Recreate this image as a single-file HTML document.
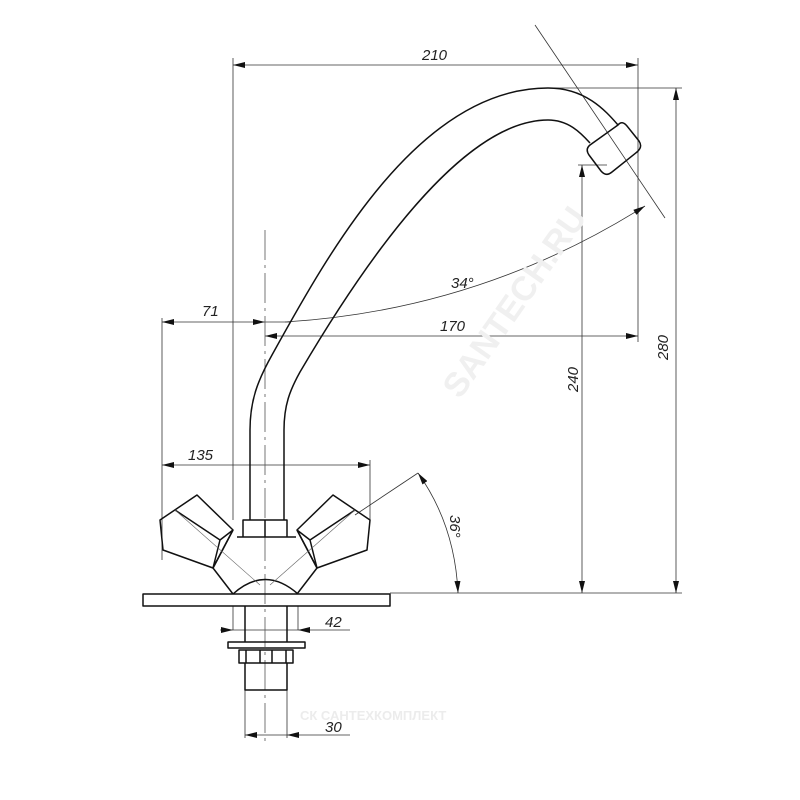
<!DOCTYPE html>
<html><head><meta charset="utf-8"><style>
html,body{margin:0;padding:0;background:#fff;}
svg{display:block}
text{font-family:"Liberation Sans",sans-serif;font-style:italic;font-size:15px;fill:#222}
</style></head><body>
<svg width="800" height="800" viewBox="0 0 800 800" xmlns="http://www.w3.org/2000/svg">
<defs>
<marker id="a" viewBox="0 0 12 6" refX="12" refY="3" markerWidth="12" markerHeight="6" orient="auto-start-reverse" markerUnits="userSpaceOnUse"><path d="M0,0 L12,3 L0,6 z" fill="#111"/></marker>
</defs>
<g stroke="#333" stroke-width="0.8" fill="none">
<line x1="233" y1="58" x2="233" y2="520"/>
<line x1="638" y1="58" x2="638" y2="342"/>
<line x1="162" y1="318" x2="162" y2="560"/>
<line x1="370" y1="460" x2="370" y2="520"/>
<line x1="548" y1="88" x2="682" y2="88"/>
<line x1="578" y1="165" x2="607" y2="165"/>
<line x1="390" y1="593" x2="682" y2="593"/>
<line x1="233" y1="65" x2="638" y2="65" marker-start="url(#a)" marker-end="url(#a)"/>
<line x1="162" y1="322" x2="265" y2="322" marker-start="url(#a)" marker-end="url(#a)"/>
<line x1="265" y1="322" x2="290" y2="322"/>
<line x1="265" y1="336" x2="638" y2="336" marker-start="url(#a)" marker-end="url(#a)"/>
<line x1="162" y1="465" x2="370" y2="465" marker-start="url(#a)" marker-end="url(#a)"/>
<line x1="676" y1="88" x2="676" y2="593" marker-start="url(#a)" marker-end="url(#a)"/>
<line x1="582" y1="165" x2="582" y2="593" marker-start="url(#a)" marker-end="url(#a)"/>
<path d="M285,322 Q480,310 645,206" marker-end="url(#a)"/>
<line x1="535" y1="25" x2="665" y2="218"/>
<path d="M418,473 Q455,525 458,593" marker-start="url(#a)" marker-end="url(#a)"/>
<line x1="418" y1="473" x2="355" y2="515"/>
<line x1="233" y1="606" x2="233" y2="630"/>
<line x1="298" y1="606" x2="298" y2="630"/>
<line x1="220" y1="630" x2="350" y2="630"/>
<path d="M233,630 l-12,-3 v6z M298,630 l12,-3 v6z" fill="#111" stroke="none"/>
<line x1="245" y1="690" x2="245" y2="738"/>
<line x1="287" y1="690" x2="287" y2="738"/>
<line x1="245" y1="735" x2="350" y2="735" marker-start="url(#a)"/>
<path d="M287,735 l12,-3 v6z" fill="#111" stroke="none"/>
<line x1="265" y1="230" x2="265" y2="745" stroke-dasharray="30,5,3,5" stroke="#555"/>
</g>
<g stroke="#111" stroke-width="1.5" fill="none" stroke-linejoin="round">
<path d="M250,520 L250,430 C250,400 258,380 272,355 C330,250 420,88 548,88 C585,88 605,110 618,125"/>
<path d="M284,520 L284,430 C284,405 290,390 300,372 C360,270 460,120 548,120 C568,120 580,132 590,143"/>
<path d="M618,125 Q622,120 627,126 L639,141 Q643,147 637,152 L612,172 Q606,177 601,171 L589,155 Q585,149 590,145 Z"/>
<path d="M243,537 L243,520 L287,520 L287,537 M265,520 L265,537"/>
<path d="M237,537 L296,537"/>
<path d="M233,530 L213,568 L233,594 M297,530 L317,568 L297,594"/>
<path d="M233,594 Q265,565 298,594"/>
<path d="M197,495 L233,530 L213,568 L163,550 L160,520 Z M175,510 L220,540 L213,568 M220,540 L233,530"/>
<path d="M333,495 L297,530 L317,568 L367,550 L370,520 Z M355,510 L310,540 L317,568 M310,540 L297,530"/>
<rect x="143" y="594" width="247" height="12"/>
<path d="M245,606 L245,642 M287,606 L287,642"/>
<rect x="228" y="642" width="77" height="6"/>
<rect x="239" y="650" width="54" height="13"/>
<path d="M246,650 V663 M260,650 V663 M272,650 V663 M286,650 V663"/>
<path d="M245,663 L245,690 L287,690 L287,663"/>
</g>
<g stroke="#666" stroke-width="0.6" fill="none">
<line x1="175" y1="510" x2="260" y2="585"/>
<line x1="355" y1="510" x2="270" y2="585"/>
</g>
<text x="422" y="60">210</text>
<text x="202" y="316">71</text>
<text x="440" y="331">170</text>
<text x="451" y="288">34°</text>
<text x="188" y="460">135</text>
<text x="325" y="627">42</text>
<text x="325" y="732">30</text>
<text transform="translate(668,360) rotate(-90)">280</text>
<text transform="translate(578,392) rotate(-90)">240</text>
<text transform="translate(450,515) rotate(90)">36°</text>
<text transform="translate(460,400) rotate(-55)" style="font-size:34px;font-weight:bold;font-style:normal;fill:#f0f0f0">SANTECH.RU</text>
<text x="300" y="720" style="font-size:13px;font-weight:bold;font-style:normal;fill:#ececec">СК САНТЕХКОМПЛЕКТ</text>
</svg>
</body></html>
